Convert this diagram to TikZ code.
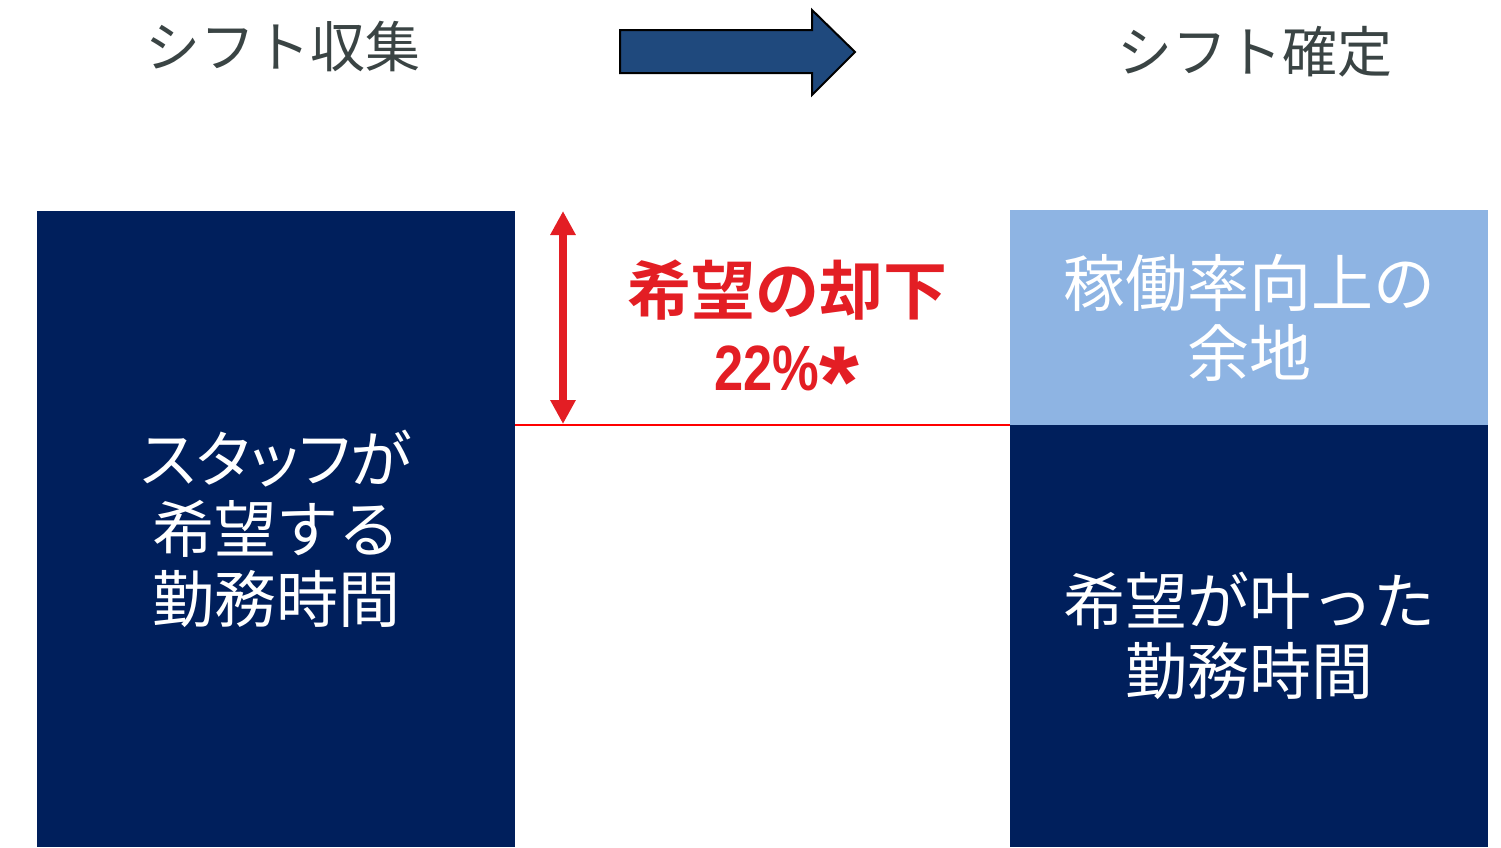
\documentclass[tikz,border=0pt]{standalone}
\usepackage{fontspec}
\setmainfont{Noto Sans CJK JP}
\newfontfamily\cjkb{Noto Sans CJK JP}[BoldFont={* Bold}]
\newfontfamily\cjkp{Noto Sans CJK JP}[RawFeature=+palt]
\newfontfamily\libs{Liberation Sans}
\usetikzlibrary{arrows.meta}
\definecolor{navy}{HTML}{001F5C}
\definecolor{lightb}{HTML}{8EB4E3}
\definecolor{arrblue}{HTML}{1F497D}
\definecolor{tred}{HTML}{E31E24}
\definecolor{titlegray}{HTML}{3A4444}
\tikzset{
  box/.style={inner sep=0pt, minimum width=478pt, align=center, text=white,
    font=\fontsize{62}{70}\selectfont},
  title/.style={text=titlegray, font=\fontsize{55}{60}\selectfont},
}
\begin{document}
\begin{tikzpicture}[x=1pt,y=-1pt]
\useasboundingbox (0,0) rectangle (1501,847);
\node[title] (t1) at (283,47) {シフト収集};
\node[title] (t2) at (1255,52) {シフト確定};
\draw[fill=arrblue, draw=black, line width=2pt, line join=miter]
  (620,30) -- (812,30) -- (812,10) -- (855,52) -- (812,95) -- (812,73) -- (620,73) -- cycle;
\node[box, fill=navy, minimum height=636pt] (left) at (276,529) {{\cjkp スタッフが}\\希望する\\勤務時間};
\node[box, fill=lightb, minimum height=215pt] (light) at (1249,317.5) {稼働率向上の\\余地};
\node[box, fill=navy, minimum height=422pt] (dark) at (1249,636) {希望が叶った\\勤務時間};
\draw[red, line width=2pt] (left.east |- dark.north) -- (dark.north west);
\coordinate (atop) at (563,211);
\coordinate (abot) at (563,424);
\draw[tred, line width=8pt, {Triangle[width=24pt,length=24pt]}-{Triangle[width=24pt,length=24pt]}] (atop) -- (abot);
\node[text=tred, font=\cjkb\bfseries\fontsize{64}{76}\selectfont, align=center] (rej) at (787,339)
  {希望の却下\\{\libs\bfseries\scalebox{0.82}[1]{22\%}\raisebox{-27pt}{\scalebox{1.6}{*}}}};
\end{tikzpicture}
\end{document}
